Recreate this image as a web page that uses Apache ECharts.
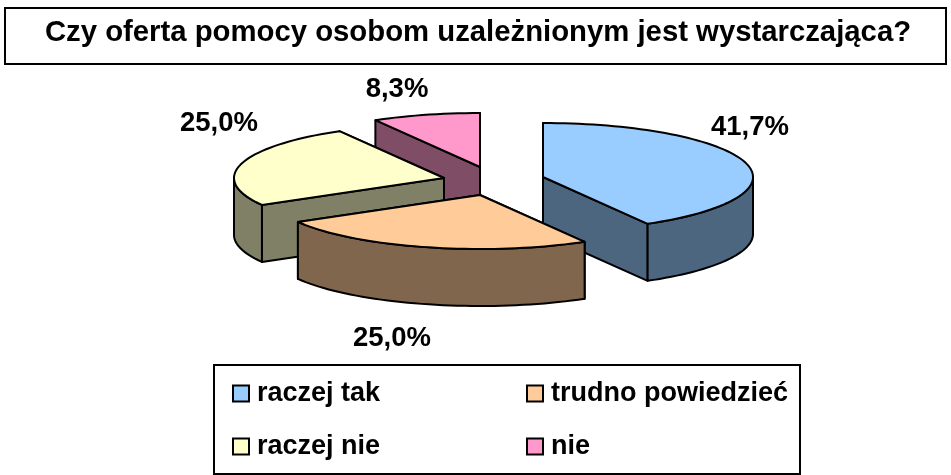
<!DOCTYPE html>
<html>
<head>
<meta charset="utf-8">
<title>Czy oferta pomocy</title>
<style>
  html, body { margin: 0; padding: 0; background: #fff; }
  #chart { width: 951px; height: 475px; }
</style>
<script src="https://cdn.jsdelivr.net/npm/echarts@6/dist/echarts.min.js"></script>
</head>
<body>
<div id="chart"></div>
<script>
  const titleText = 'Czy oferta pomocy osobom uzależnionym jest wystarczająca?';
  const categories = ['raczej tak', 'trudno powiedzieć', 'raczej nie', 'nie'];
  const shares = [41.7, 25.0, 25.0, 8.3];
  const topColors = ['#99CCFF', '#FFCC99', '#FFFFCC', '#FF99CC'];
  const wallColors = ['#4D6680', '#80664D', '#808066', '#804D66'];

  // ellipse of the pie and its thickness
  const RX = 210, RY = 54, DEPTH = 57;
  // exploded apex of every slice, and where its label sits
  const apexes = [[543, 177], [480, 195], [444, 178], [480, 167]];
  const labelPos = [[750, 127], [392, 338], [219, 123], [397, 89]];
  // back slices first
  const drawOrder = [3, 2, 0, 1];

  const total = shares.reduce((a, b) => a + b, 0);
  const startAngle = [];
  shares.reduce((acc, v, i) => { startAngle[i] = acc; return acc + v / total * 360; }, 0);

  function rimPoint(i, deg, down) {
    const r = deg * Math.PI / 180;
    return [apexes[i][0] + RX * Math.sin(r), apexes[i][1] - RY * Math.cos(r) + (down ? DEPTH : 0)];
  }
  function arcPoints(i, from, to, down) {
    const pts = [];
    const n = Math.max(2, Math.ceil(Math.abs(to - from) / 2));
    for (let k = 0; k <= n; k++) pts.push(rimPoint(i, from + (to - from) * k / n, down));
    return pts;
  }
  const faceStyle = (fill) => ({ fill: fill, stroke: '#000', lineWidth: 2, lineJoin: 'round' });
  const poly = (points, fill) => ({ type: 'polygon', shape: { points: points }, style: faceStyle(fill) });

  function renderSlice(i) {
    const a0 = startAngle[i], a1 = a0 + shares[i] / total * 360;
    const ax = apexes[i], axDown = [ax[0], ax[1] + DEPTH];
    const children = [];
    // cut faces, the farther one first
    [a0, a1].sort((p, q) => rimPoint(i, p)[1] - rimPoint(i, q)[1]).forEach(function (a) {
      children.push(poly([ax, rimPoint(i, a), rimPoint(i, a, true), axDown], wallColors[i]));
    });
    // outer wall, only the part that faces the viewer
    const w0 = Math.max(a0, 90), w1 = Math.min(a1, 270);
    if (w1 > w0) {
      children.push(poly(arcPoints(i, w0, w1).concat(arcPoints(i, w1, w0, true)), wallColors[i]));
    }
    children.push(poly([ax].concat(arcPoints(i, a0, a1)), topColors[i]));
    return { type: 'group', children: children };
  }

  const chart = echarts.init(document.getElementById('chart'));

  const sliceSeries = drawOrder.map(function (i) {
    return {
      type: 'custom',
      name: categories[i],
      coordinateSystem: 'none',
      silent: true,
      z: 2 + drawOrder.indexOf(i),
      itemStyle: { color: topColors[i] },
      data: [shares[i]],
      renderItem: function () { return renderSlice(i); }
    };
  });

  const legendText = { fontFamily: 'Liberation Sans', fontWeight: 'bold', fontSize: 27, color: '#000', padding: [0, 0, 0, 3] };
  const legendAt = [[232, 380], [526, 380], [232, 433], [526, 433]];

  chart.setOption({
    animation: false,
    backgroundColor: '#fff',
    title: {
      text: titleText,
      left: 473,
      top: 13,
      textAlign: 'center',
      textStyle: { fontFamily: 'Liberation Sans', fontWeight: 'bold', fontSize: 29.3, color: '#000' }
    },
    legend: categories.map(function (name, i) {
      return {
        data: [name],
        left: legendAt[i][0],
        top: legendAt[i][1],
        padding: 0,
        icon: 'rect',
        itemWidth: 16,
        itemHeight: 16,
        itemGap: 0,
        selectedMode: false,
        itemStyle: { borderColor: '#000', borderWidth: 2 },
        textStyle: legendText
      };
    }),
    graphic: [
      { type: 'rect', z: 0, shape: { x: 5, y: 8, width: 941, height: 56 },
        style: { fill: '#fff', stroke: '#000', lineWidth: 2 } },
      { type: 'rect', z: 0, shape: { x: 214, y: 365, width: 586, height: 109 },
        style: { fill: '#fff', stroke: '#000', lineWidth: 2 } }
    ].concat(shares.map(function (v, i) {
      return {
        type: 'text',
        z: 20,
        x: labelPos[i][0],
        y: labelPos[i][1],
        style: {
          text: v.toFixed(1).replace('.', ',') + '%',
          fontFamily: 'Liberation Sans',
          fontWeight: 'bold',
          fontSize: 27.5,
          fill: '#000',
          align: 'center',
          verticalAlign: 'middle'
        }
      };
    })),
    series: sliceSeries
  });

  window.addEventListener('resize', function () { chart.resize(); });
</script>
</body>
</html>
